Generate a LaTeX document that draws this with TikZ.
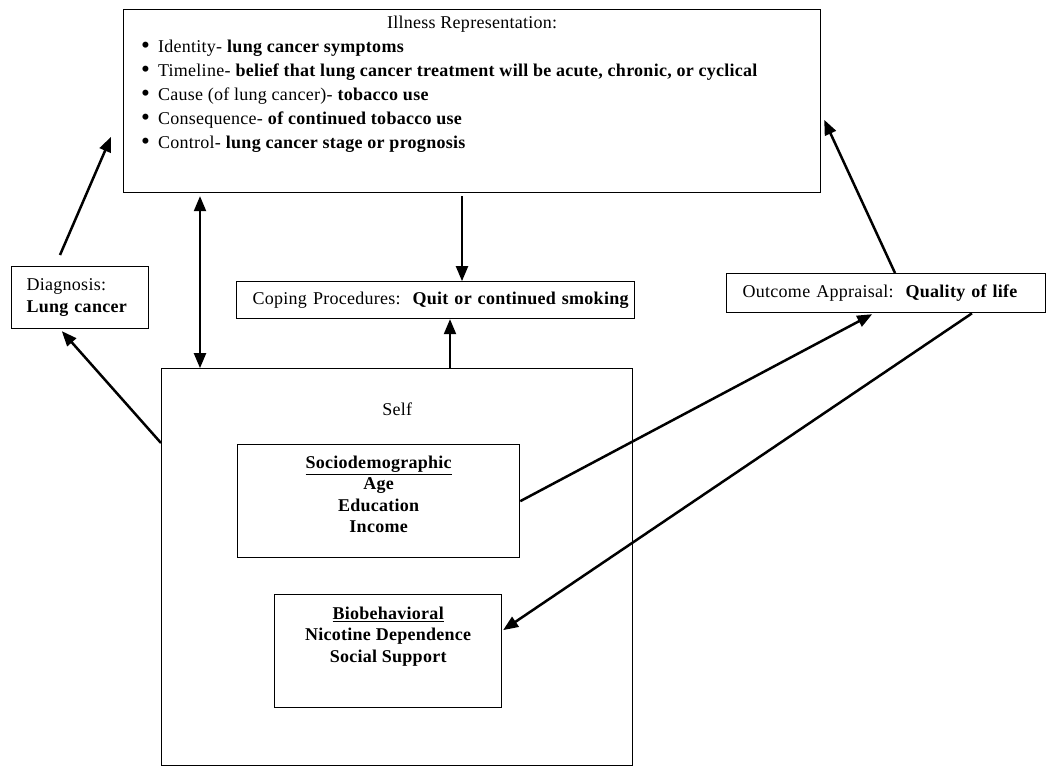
\documentclass[tikz,border=0pt]{standalone}
\usepackage{fontspec}
\setmainfont{Liberation Serif}[LetterSpace=1.5]
\usetikzlibrary{arrows, calc, positioning}

\newcommand{\bigdot}{\smash{\raisebox{-1pt}{\scalebox{1.4}{\textbullet}}}\hspace{8pt}}

\begin{document}
\begin{tikzpicture}[x=1pt, y=-1pt,
        every node/.style={font=\fontsize{18}{22}\selectfont, inner sep=0pt},
        box/.style={draw, line width=1.3pt, anchor=north west},
        link/.style={-triangle 45, line width=2.5pt}]
    \useasboundingbox (0,0) rectangle (1050,772);

    \node[box, minimum width=697pt, minimum height=183pt] (illness) at (123,9) {};
    \node[below=6.7pt of illness.north] (illnesstitle) {Illness Representation:};
    \node[anchor=north west, align=left, font=\fontsize{18}{24}\selectfont] (illnesslist) at (141,40)
        {\bigdot Identity- \textbf{lung cancer symptoms}\\
         \bigdot Timeline- \textbf{belief that lung cancer treatment will be acute, chronic, or cyclical}\\
         \bigdot Cause (of lung cancer)- \textbf{tobacco use}\\
         \bigdot Consequence- \textbf{of continued tobacco use}\\
         \bigdot Control- \textbf{lung cancer stage or prognosis}};

    \node[box, minimum height=62pt, text width=107pt, inner xsep=15pt, align=left] (diagnosis) at (11,266)
        {Diagnosis:\\ \textbf{Lung cancer}};
    \node[box, minimum height=37pt, text width=366pt, inner xsep=16pt, align=left] (coping) at (236,281)
        {\mbox{Coping Procedures:\ \ \textbf{Quit or continued smoking}}};
    \node[box, minimum height=39pt, text width=287pt, inner xsep=16pt, align=left] (outcome) at (726,273)
        {\mbox{Outcome Appraisal:\ \ \textbf{Quality of life}}};

    \node[box, minimum width=471pt, minimum height=397pt] (self) at (161,368) {};
    \node[below=35pt of self.north] (selflabel) {Self};

    \node[box, minimum width=282pt, minimum height=113pt] (socio) at (237,444) {};
    \node[below=11.7pt of socio.north, align=center, font=\fontsize{18}{21.5}\selectfont\bfseries] (sociotext)
        {\underline{Sociodemographic}\\ Age\\ Education\\ Income};
    \node[box, minimum width=227pt, minimum height=113pt] (bio) at (274,594) {};
    \node[below=12.7pt of bio.north, align=center, font=\fontsize{18}{21.5}\selectfont\bfseries] (biotext)
        {\underline{Biobehavioral}\\ Nicotine Dependence\\ Social Support};

    % connectors
    \draw[link] ($(diagnosis.north west)+(49,-11)$) -- ($(illness.north west)+(-12,128)$);
    \draw[link] ($(self.north west)+(0,75)$) -- ($(diagnosis.south west)+(51,2)$);
    \draw[link, triangle 45-triangle 45] ($(illness.south west)+(77,3)$) -- ($(self.north west)+(39,0)$);
    \draw[link] ($(illness.south west)+(339,3)$) -- ($(coping.north west)+(226,0)$);
    \draw[link] ($(self.north west)+(289,0)$) -- ($(coping.south west)+(214,0)$);
    \draw[link] ($(outcome.north west)+(169,0)$) -- ($(illness.north east)+(3,111)$);
    \draw[link] (socio.east) -- ($(outcome.south west)+(146,1)$);
    \draw[link] ($(outcome.south west)+(246,0)$) -- ($(bio.north east)+(1,36)$);
\end{tikzpicture}
\end{document}
